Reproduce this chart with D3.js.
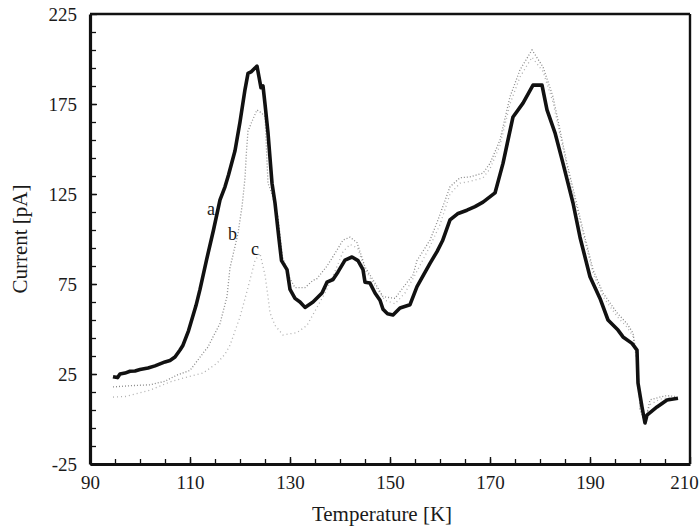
<!DOCTYPE html>
<html>
<head>
<meta charset="utf-8">
<script src="https://cdn.jsdelivr.net/npm/d3@7/dist/d3.min.js"></script>
<style>
  body { margin: 0; background: #fff; }
  svg { display: block; font-family: "Liberation Serif", "Times New Roman", serif; }
</style>
</head>
<body>
<svg id="chart"></svg>
<script>
// curve a (solid, thick)
const tempA = [94.6, 95.5, 96, 97, 98, 99, 100, 101.6, 103, 105, 106, 107, 108, 108.6, 109.7, 111.2, 112, 113.3, 114.7, 116, 117, 117.7, 119, 120, 121, 121.6, 122.3, 123, 123.4, 123.8, 124.2, 124.6, 125, 125.6, 126.4, 127, 127.8, 128.3, 129.4, 130, 131, 132, 133, 134.6, 136.4, 137.4, 138.6, 139.6, 141, 142.4, 143.6, 144.6, 145, 146, 147, 148, 148.6, 149.5, 150.6, 152, 154, 155.4, 158, 159.4, 160.5, 162, 163.5, 165.4, 167, 168.6, 171, 172.6, 173.6, 174.6, 176.6, 178.6, 180.4, 181.4, 183, 184.6, 186.6, 188, 190, 192, 193.6, 195.6, 196.6, 198.4, 199.4, 199.6, 200.4, 201, 201.4, 203.4, 205.4, 207.6];
const currA = [23.5, 23, 25, 25.5, 26.5, 26.7, 27.5, 28.3, 29.5, 31.7, 32.5, 34.4, 38.3, 41, 49, 63, 72, 88.3, 105, 121.7, 129, 135.6, 149, 165, 183, 192, 193, 195, 196, 190, 184, 185, 175, 159, 131, 120, 100, 88, 83, 72, 67, 65, 62, 65, 70, 76, 77.5, 81.7, 88.3, 90, 88, 83, 76, 75.5, 70, 66, 61, 58.5, 57.8, 61.7, 63.5, 73.5, 86.5, 93, 99, 110.6, 114, 116, 118, 120.5, 125.6, 142, 155, 167.8, 175.5, 185.5, 185.5, 171.7, 159, 142, 120, 101, 79, 67, 55, 49.4, 45.6, 42, 38.3, 20, 6.7, -2.2, 2.2, 6.7, 10.6, 11.5];

// curve b (dotted)
const tempB = [94.6, 98, 102, 105, 107.4, 110, 113, 113.6, 114.6, 116, 117.4, 118, 119.6, 120.4, 120.6, 121, 121.3, 121.6, 122.5, 123.4, 124.3, 125, 125.6, 126.4, 127.6, 128.5, 130, 131, 133, 134.6, 135.4, 137.4, 139, 140.6, 142, 143.4, 145, 147, 148.6, 151, 152.6, 154.6, 155.4, 158, 159.6, 162, 164, 166, 168.6, 170, 172, 174, 176, 178.4, 180.6, 182.6, 184, 185.4, 187, 188.6, 190.6, 192.6, 195.4, 197.4, 198.6, 199.6, 200, 201, 202, 204, 205.4, 207];
const currB = [17.8, 18.5, 19, 21, 24.4, 27, 38, 40, 45.6, 53, 68, 84, 103, 118, 123, 134, 149, 160, 166, 171.7, 170, 168, 131, 125, 112, 90, 78, 73, 73, 77, 78, 85, 92, 99.4, 101, 98, 84.5, 75.5, 68, 67, 73, 80, 88, 99.4, 110.6, 129, 134, 134.5, 136.6, 142, 155, 179, 194, 205, 195.6, 179, 160.5, 142, 123.5, 105, 83, 70, 59, 53, 47.8, 29, 5, -2, 10.6, 12.2, 13, 12.5];

// curve c (light dotted)
const tempC = [94.6, 97, 102, 106, 109, 112.6, 115.4, 117, 118, 120, 121.5, 123, 124, 125, 125.6, 126, 127, 128.6, 131.4, 133.4, 135, 137, 139, 140.6, 142, 143.5, 145, 147, 149, 151, 153, 155, 158, 160, 162, 164, 166, 168.6, 170, 172, 174, 176, 178.4, 180.6, 182.6, 184, 185.4, 187, 188.6, 190.6, 192.6, 195.4, 197.4, 198.6, 199.6, 200, 201, 202, 204, 206];
const currC = [12.2, 12.5, 16, 20.6, 23, 25.5, 31, 36, 41, 56.7, 72, 88, 92, 80, 68, 59, 52, 46.7, 48, 52, 60, 70, 82, 93, 97, 95, 83, 74, 66, 64, 70, 80, 96, 108, 125, 131, 132, 134, 139, 152, 175, 190, 201, 193, 176, 158, 140, 121, 103, 81, 68, 57, 51, 46, 28, 6, 0, 8, 11, 12];

const xMajor = [90, 110, 130, 150, 170, 190, 210];
const yMajor = [-25, 25, 75, 125, 175, 225];
const curveNames = ["a", "b", "c"];
const labelTemp = [113.4, 117.6, 122.2];
const labelCurr = [113.3, 99.4, 91.1];

const width = 700, height = 531;
const margin = { top: 14, right: 10, bottom: 67, left: 90 };
const plotW = width - margin.left - margin.right;   // 600
const plotH = height - margin.top - margin.bottom;  // 450

const svg = d3.select("#chart").attr("width", width).attr("height", height);
const g = svg.append("g").attr("transform", `translate(${margin.left},${margin.top})`);

const x = d3.scaleLinear().domain([90, 210]).range([0, plotW]);
const y = d3.scaleLinear().domain([-25, 225]).range([plotH, 0]);

// frame: top and right
g.append("line").attr("x1", 0).attr("x2", plotW).attr("y1", 0).attr("y2", 0)
  .attr("stroke", "#111").attr("stroke-width", 2.6);
g.append("line").attr("x1", plotW).attr("x2", plotW).attr("y1", 0).attr("y2", plotH)
  .attr("stroke", "#111").attr("stroke-width", 2.4);

// minor ticks
g.append("g")
  .attr("transform", `translate(0,${plotH})`)
  .call(d3.axisBottom(x).tickValues(d3.range(95, 210, 5)).tickSize(-5).tickFormat(""))
  .call(a => a.select(".domain").remove())
  .selectAll("line").attr("stroke", "#111").attr("stroke-width", 1.3);
g.append("g")
  .call(d3.axisLeft(y).tickValues(d3.range(-15, 225, 10)).tickSize(-6).tickFormat(""))
  .call(a => a.select(".domain").remove())
  .selectAll("line").attr("stroke", "#111").attr("stroke-width", 1.3);

// major axes (plain hyphen for negatives, like the original)
const xAxis = g.append("g")
  .attr("transform", `translate(0,${plotH})`)
  .call(d3.axisBottom(x).tickValues(xMajor).tickSize(-7).tickPadding(12).tickSizeOuter(0)
    .tickFormat(d => String(d)));
const yAxis = g.append("g")
  .call(d3.axisLeft(y).tickValues(yMajor).tickSize(-7).tickPadding(13).tickSizeOuter(0)
    .tickFormat(d => String(d)));

[xAxis, yAxis].forEach(a => {
  a.select(".domain").attr("stroke", "#111").attr("stroke-width", 3.2);
  a.selectAll(".tick line").attr("stroke", "#111").attr("stroke-width", 1.4);
  a.selectAll(".tick text")
    .attr("fill", "#1a1a1a")
    .style("font-family", "'Liberation Serif', serif")
    .style("font-size", "19px");
});

// last x label sits a bit inside the right edge
xAxis.selectAll(".tick text").filter(d => d === 210).attr("dx", "-6px");

// curves
const line = d3.line().x(d => x(d[0])).y(d => y(d[1]));
const zip = (ts, vs) => ts.map((t, i) => [t, vs[i]]);

g.append("path").datum(zip(tempC, currC))
  .attr("fill", "none").attr("stroke", "#b0b0b0").attr("stroke-width", 1.3)
  .attr("stroke-dasharray", "1,3").attr("d", line);
g.append("path").datum(zip(tempB, currB))
  .attr("fill", "none").attr("stroke", "#8a8a8a").attr("stroke-width", 1.3)
  .attr("stroke-dasharray", "1,2").attr("d", line);
g.append("path").datum(zip(tempA, currA))
  .attr("fill", "none").attr("stroke", "#111").attr("stroke-width", 3.6)
  .attr("stroke-linejoin", "round").attr("d", line);

// curve labels
g.selectAll(".clabel")
  .data(curveNames)
  .enter().append("text")
  .attr("class", "clabel")
  .attr("x", (d, i) => x(labelTemp[i]))
  .attr("y", (d, i) => y(labelCurr[i]))
  .style("font-size", "18px")
  .style("fill", "#1a1a1a")
  .text(d => d);

// axis titles
svg.append("text")
  .attr("x", margin.left + plotW / 2 - 8)
  .attr("y", 521)
  .attr("text-anchor", "middle")
  .style("font-size", "21px")
  .style("fill", "#1a1a1a")
  .text("Temperature [K]");

svg.append("text")
  .attr("transform", `translate(27,${margin.top + 225}) rotate(-90)`)
  .attr("text-anchor", "middle")
  .style("font-size", "21px")
  .style("fill", "#1a1a1a")
  .text("Current [pA]");
</script>
</body>
</html>
